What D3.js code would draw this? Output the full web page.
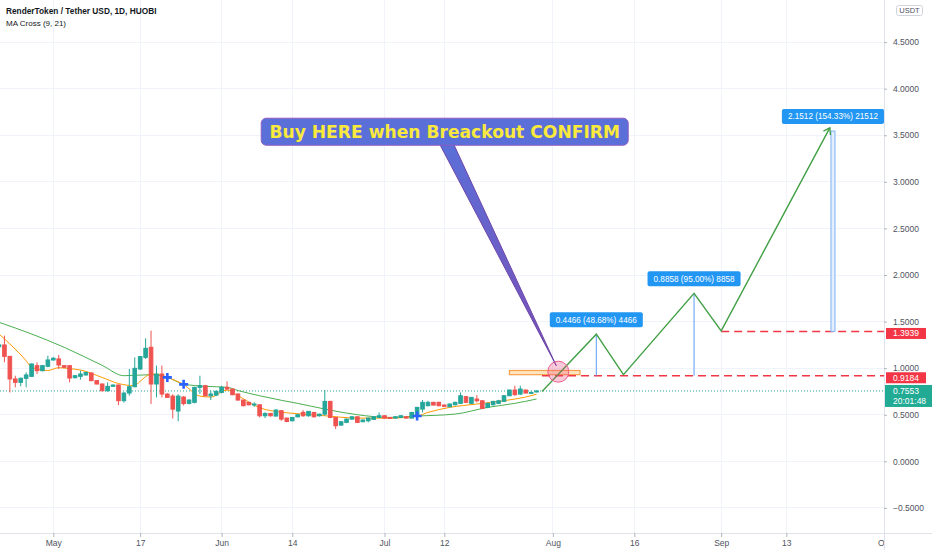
<html>
<head>
    <title>RenderToken / Tether USD, 1D</title>
    <meta charset="utf-8" />
    <style>
body {
    margin: 0;
    padding: 0;
    background: #fff;
}

svg {
    display: block;
}

.grid line {
    stroke: #f0f3fa;
    shape-rendering: crispEdges;
}

.axis text {
    fill: #50535e;
    font-family: 'Liberation Sans', Arial, sans-serif;
}

.axis line {
    stroke: #b2b5be;
}

.up line, .up rect { stroke: #26a69a; fill: #26a69a; }
.down line, .down rect { stroke: #ef5350; fill: #ef5350; }

.legend {
    fill: #131722;
    font-family: 'Liberation Sans', Arial, sans-serif;
}
    </style>

    <!-- load the d3.js library -->
    <script src="https://d3js.org/d3.v7.min.js"></script>
</head>
<body>
    <script>
// daily candles, first one on candleStart
var candleStart = "2021-04-21";
var opens = [1.23, 1.249, 1.127, 0.884, 0.848, 0.891, 0.912, 1.027, 0.973, 1.020,
    1.088, 1.099, 1.027, 1.027, 0.898, 0.912, 0.927, 0.948, 0.866, 0.830, 0.758, 0.805, 0.819, 0.651, 0.733, 0.801,
    0.991, 1.116, 1.224, 0.830, 0.937, 0.722, 0.70, 0.54, 0.69, 0.622, 0.633, 0.794, 0.812, 0.704, 0.711,
    0.740, 0.794, 0.776, 0.722, 0.658, 0.633, 0.607, 0.607, 0.489, 0.514, 0.486, 0.543, 0.464, 0.435, 0.478,
    0.525, 0.489, 0.525, 0.489, 0.507, 0.643, 0.471, 0.389, 0.418, 0.453, 0.478, 0.425, 0.435, 0.450, 0.471,
    0.489, 0.471, 0.464, 0.471, 0.478, 0.464, 0.489, 0.561, 0.597, 0.633, 0.633, 0.604, 0.586, 0.607, 0.622,
    0.694, 0.622, 0.668, 0.650, 0.579, 0.607, 0.622, 0.643, 0.704, 0.765, 0.722, 0.765, 0.733, 0.745];
var highs = [1.29, 1.349, 1.13, 0.919, 0.90, 0.955, 1.05, 1.063, 1.035, 1.134,
    1.12, 1.142, 1.03, 1.03, 0.925, 0.973, 0.96, 0.955, 0.87, 0.835, 0.848, 0.825, 0.825, 0.74, 0.991, 1.116,
    1.13, 1.321, 1.403, 1.027, 1.027, 0.73, 0.72, 0.72, 0.70, 0.665, 0.80, 0.919, 0.82, 0.758, 0.76,
    0.812, 0.858, 0.78, 0.73, 0.66, 0.64, 0.633, 0.61, 0.525, 0.52, 0.56, 0.55, 0.47, 0.475, 0.51,
    0.55, 0.54, 0.53, 0.51, 0.765, 0.65, 0.475, 0.43, 0.46, 0.485, 0.48, 0.45, 0.47, 0.485, 0.525,
    0.495, 0.475, 0.485, 0.495, 0.485, 0.53, 0.585, 0.658, 0.65, 0.64, 0.64, 0.61, 0.62, 0.64, 0.74,
    0.70, 0.69, 0.711, 0.655, 0.63, 0.65, 0.66, 0.71, 0.77, 0.812, 0.812, 0.77, 0.75, 0.76];
var lows = [1.20, 1.063, 0.740, 0.794, 0.805, 0.794, 0.905, 0.937, 0.965, 1.009,
    1.08, 0.991, 1.0, 0.848, 0.89, 0.876, 0.92, 0.86, 0.825, 0.75, 0.747, 0.80, 0.604, 0.63, 0.704, 0.794,
    0.98, 1.099, 0.615, 0.686, 0.686, 0.68, 0.46, 0.43, 0.60, 0.61, 0.622, 0.722, 0.70, 0.658, 0.70,
    0.729, 0.765, 0.71, 0.65, 0.59, 0.60, 0.586, 0.471, 0.464, 0.48, 0.48, 0.435, 0.42, 0.43, 0.47,
    0.478, 0.48, 0.47, 0.48, 0.489, 0.464, 0.346, 0.38, 0.41, 0.445, 0.41, 0.42, 0.418, 0.445, 0.464,
    0.46, 0.455, 0.46, 0.465, 0.46, 0.46, 0.48, 0.525, 0.59, 0.60, 0.59, 0.585, 0.58, 0.60, 0.615,
    0.625, 0.615, 0.633, 0.56, 0.57, 0.60, 0.615, 0.64, 0.70, 0.704, 0.711, 0.73, 0.73, 0.74];
var closes = [1.25, 1.127, 0.884, 0.848, 0.891, 0.927, 1.045, 0.973, 1.027, 1.088,
    1.106, 1.034, 1.009, 0.894, 0.919, 0.937, 0.955, 0.866, 0.830, 0.758, 0.805, 0.819, 0.651, 0.733, 0.801, 0.998,
    1.124, 1.213, 0.830, 0.937, 0.722, 0.686, 0.56, 0.70, 0.62, 0.658, 0.794, 0.812, 0.704, 0.722, 0.751,
    0.794, 0.776, 0.715, 0.658, 0.597, 0.607, 0.615, 0.489, 0.514, 0.489, 0.550, 0.453, 0.428, 0.471, 0.500,
    0.489, 0.536, 0.478, 0.507, 0.643, 0.471, 0.382, 0.425, 0.453, 0.478, 0.418, 0.443, 0.464, 0.478, 0.489,
    0.464, 0.46, 0.478, 0.489, 0.464, 0.525, 0.579, 0.633, 0.633, 0.604, 0.597, 0.590, 0.615, 0.633, 0.704,
    0.633, 0.686, 0.650, 0.568, 0.622, 0.643, 0.650, 0.704, 0.765, 0.715, 0.776, 0.733, 0.740, 0.7553];

// MA Cross (9, 21)
var ma9Dates = ["2021-04-21", "2021-04-23", "2021-04-26", "2021-04-27", "2021-04-30", "2021-05-02", "2021-05-04",
    "2021-05-06", "2021-05-10", "2021-05-13", "2021-05-16", "2021-05-17", "2021-05-19", "2021-05-20", "2021-05-22",
    "2021-05-25", "2021-05-28", "2021-05-30", "2021-06-02", "2021-06-04", "2021-06-08", "2021-06-13", "2021-06-15",
    "2021-06-20", "2021-06-26", "2021-07-02", "2021-07-07", "2021-07-09", "2021-07-13", "2021-07-18", "2021-07-23",
    "2021-07-27", "2021-07-29"];
var ma9Values = [1.367, 1.26, 1.08, 1.01, 0.975, 1.005, 0.995,
    0.98, 0.90, 0.835, 0.812, 0.86, 0.935, 0.935, 0.901,
    0.823, 0.70, 0.69, 0.765, 0.705, 0.575, 0.521, 0.511,
    0.489, 0.464, 0.464, 0.486, 0.525, 0.579, 0.615, 0.651,
    0.69, 0.72];
var ma21Dates = ["2021-04-21", "2021-04-27", "2021-05-03", "2021-05-10", "2021-05-14", "2021-05-19", "2021-05-22",
    "2021-05-25", "2021-05-29", "2021-06-02", "2021-06-04", "2021-06-08", "2021-06-12", "2021-06-15", "2021-06-20",
    "2021-06-26", "2021-07-02", "2021-07-07", "2021-07-14", "2021-07-20", "2021-07-25", "2021-07-29"];
var ma21Values = [1.492, 1.367, 1.224, 1.03, 0.919, 0.93, 0.901,
    0.830, 0.805, 0.795, 0.76, 0.704, 0.655, 0.622, 0.561,
    0.500, 0.471, 0.486, 0.507, 0.579, 0.622, 0.669];
var crossDates = ["2021-05-22", "2021-05-25", "2021-07-07"];
var crossValues = [0.901, 0.826, 0.486];

// drawn projection
var projDates = ["2021-07-30", "2021-08-09", "2021-08-14", "2021-08-27", "2021-09-01", "2021-09-21"];
var projValues = [0.75, 1.365, 0.93, 1.804, 1.40, 3.58];

var measureDates = ["2021-08-09", "2021-08-27", "2021-09-21T14:00"];
var measureFrom = [0.9184, 0.9184, 1.3939];
var measureTo = [1.365, 1.8042, 3.5451];
var measureLabels = ["0.4466 (48.68%) 4466", "0.8858 (95.00%) 8858", "2.1512 (154.33%) 21512"];

var levelStarts = ["2021-07-30", "2021-09-01"];
var levelValues = [0.9184, 1.3939];
var lastPrice = 0.7553;
var countdown = "20:01:48";

var zoneDates = ["2021-07-24", "2021-08-06"];
var zoneValues = [0.93, 0.975];
var circleDate = "2021-08-02T00:00";
var circleValue = 0.962;

var calloutText = "Buy HERE when Breackout CONFIRM";
var calloutDate = "2021-07-12T02:00";
var calloutValue = 3.538;

var priceTicks = [-0.5, 0, 0.5, 1, 1.5, 2, 2.5, 3, 3.5, 4, 4.5];
var timeTicks = ["2021-05-01", "2021-05-17", "2021-06-01", "2021-06-14", "2021-07-01", "2021-07-12",
    "2021-08-01", "2021-08-16", "2021-09-01", "2021-09-13", "2021-10-01"];
var timeLabels = ["May", "17", "Jun", "14", "Jul", "12", "Aug", "16", "Sep", "13", "Oct"];

var Chart = (function (d3) {

    var width = 932, height = 550, plotRight = 884, plotBottom = 533;
    var svg, x, y, plot;

    function dt(s) {
        return d3.isoParse(s.length > 10 ? s + "Z" : s + "T00:00Z");
    }

    init();

    function init() {
        x = d3.scaleUtc().domain([dt("2021-05-01"), dt("2021-10-01")]).range([53.3, 884.1]);
        y = d3.scaleLinear().domain([-0.5, 4.5]).range([507.9, 42.1]);

        svg = d3.select("body").append("svg")
            .attr("width", width)
            .attr("height", height);

        var defs = svg.append("defs");
        defs.append("clipPath").attr("id", "plotClip")
            .append("rect").attr("width", plotRight).attr("height", plotBottom);
        defs.append("clipPath").attr("id", "timeClip")
            .append("rect").attr("width", plotRight).attr("height", height);

        defs.append("marker")
            .attr("id", "arrowHead")
            .attr("markerUnits", "userSpaceOnUse")
            .attr("viewBox", "-8 -6 10 12")
            .attr("markerWidth", 10).attr("markerHeight", 12)
            .attr("orient", "auto")
            .append("path")
            .attr("d", "M-6,-4L0,0L-6,4")
            .attr("fill", "none")
            .attr("stroke", "#43a047")
            .attr("stroke-width", 1.4);

        var tailGrad = defs.append("linearGradient").attr("id", "tailGrad")
            .attr("x1", 0).attr("y1", 0).attr("x2", 0).attr("y2", 1);
        tailGrad.append("stop").attr("offset", "0%").attr("stop-color", "#5b6fd8");
        tailGrad.append("stop").attr("offset", "100%").attr("stop-color", "#7a4fb5");

        plot = svg.append("g").attr("clip-path", "url(#plotClip)");

        //grid
        var grid = plot.append("g").attr("class", "grid");
        grid.selectAll(".h").data(priceTicks).join("line")
            .attr("x1", 0).attr("x2", plotRight)
            .attr("y1", function (d) { return y(d); }).attr("y2", function (d) { return y(d); });
        grid.selectAll(".v").data(timeTicks).join("line")
            .attr("y1", 0).attr("y2", plotBottom)
            .attr("x1", function (d) { return x(dt(d)); }).attr("x2", function (d) { return x(dt(d)); });

        // last price line
        plot.append("line")
            .attr("x1", 0).attr("x2", plotRight)
            .attr("y1", y(lastPrice)).attr("y2", y(lastPrice))
            .attr("stroke", "#26a69a").attr("stroke-width", 1)
            .attr("stroke-dasharray", "1,2");

        drawMAs();
        drawCandles();
        drawAnnotations();
        drawAxes();
        drawLegend();
    }

    function drawMAs() {
        var line = d3.line()
            .curve(d3.curveMonotoneX)
            .x(function (d) { return x(dt(d[0])); })
            .y(function (d) { return y(d[1]); });

        plot.append("path")
            .datum(d3.zip(ma21Dates, ma21Values))
            .attr("d", line)
            .attr("fill", "none").attr("stroke", "#4caf50").attr("stroke-width", 1);

        plot.append("path")
            .datum(d3.zip(ma9Dates, ma9Values))
            .attr("d", line)
            .attr("fill", "none").attr("stroke", "#ff9800").attr("stroke-width", 1);
    }

    function drawCandles() {
        var first = dt(candleStart);
        var days = d3.utcDay.range(first, d3.utcDay.offset(first, opens.length));
        var candles = opens.map(function (o, i) {
            return { date: days[i], o: o, h: highs[i], l: lows[i], c: closes[i] };
        });

        var g = plot.append("g").selectAll("g").data(candles).join("g")
            .attr("class", function (d) { return d.c >= d.o ? "up" : "down"; });

        g.append("line")
            .attr("x1", function (d) { return x(d.date); })
            .attr("x2", function (d) { return x(d.date); })
            .attr("y1", function (d) { return y(d.h); })
            .attr("y2", function (d) { return y(d.l); })
            .attr("stroke-width", 1);

        g.append("rect")
            .attr("x", function (d) { return x(d.date) - 1.8; })
            .attr("width", 3.6)
            .attr("y", function (d) { return y(Math.max(d.o, d.c)); })
            .attr("height", function (d) { return Math.max(1, Math.abs(y(d.o) - y(d.c))); })
            .attr("stroke", "none");

        // MA cross markers
        plot.append("g").selectAll("path").data(d3.zip(crossDates, crossValues)).join("path")
            .attr("transform", function (d) { return "translate(" + x(dt(d[0])) + "," + y(d[1]) + ")"; })
            .attr("d", "M-4.5,0H4.5M0,-4.5V4.5")
            .attr("stroke", "#2962ff").attr("stroke-width", 2.6);
    }

    function drawAnnotations() {
        // orange zone
        plot.append("rect")
            .attr("x", x(dt(zoneDates[0])))
            .attr("width", x(dt(zoneDates[1])) - x(dt(zoneDates[0])))
            .attr("y", y(zoneValues[1]))
            .attr("height", y(zoneValues[0]) - y(zoneValues[1]))
            .attr("fill", "rgba(255,152,0,0.25)")
            .attr("stroke", "#f7a04b").attr("stroke-width", 1.2);

        // red dashed levels
        plot.selectAll(".level").data(d3.zip(levelStarts, levelValues)).join("line")
            .attr("x1", function (d) { return x(dt(d[0])); }).attr("x2", plotRight)
            .attr("y1", function (d) { return y(d[1]); }).attr("y2", function (d) { return y(d[1]); })
            .attr("stroke", "#f23645").attr("stroke-width", 1.5)
            .attr("stroke-dasharray", "8,5");

        // measure lines
        measureDates.forEach(function (d, i) {
            var mx = x(dt(d));
            if (i === measureDates.length - 1) {
                plot.append("rect")
                    .attr("x", mx - 2).attr("width", 4)
                    .attr("y", y(measureTo[i])).attr("height", y(measureFrom[i]) - y(measureTo[i]))
                    .attr("fill", "#e3effd").attr("stroke", "#7fb3f5").attr("stroke-width", 1);
            } else {
                plot.append("line")
                    .attr("x1", mx).attr("x2", mx)
                    .attr("y1", y(measureFrom[i])).attr("y2", y(measureTo[i]))
                    .attr("stroke", "#5b9cf6").attr("stroke-width", 1);
            }
        });

        // projection zigzag
        plot.append("path")
            .datum(d3.zip(projDates, projValues))
            .attr("d", d3.line()
                .x(function (d) { return x(dt(d[0])); })
                .y(function (d) { return y(d[1]); }))
            .attr("fill", "none").attr("stroke", "#43a047").attr("stroke-width", 1.4)
            .attr("marker-end", "url(#arrowHead)");

        // callout
        var cx = x(dt(calloutDate)), cy = y(calloutValue);
        var tipX = x(dt(circleDate)) - 2;
        var callout = plot.append("g");
        var tail = callout.append("path");
        var box = callout.append("rect");
        var txt = callout.append("text")
            .attr("x", cx).attr("y", cy)
            .attr("text-anchor", "middle")
            .attr("dy", "0.36em")
            .attr("font-family", "'DejaVu Sans', Verdana, sans-serif")
            .attr("font-weight", "bold")
            .attr("font-size", 15)
            .attr("fill", "#f9e93d")
            .text(calloutText);
        var len = txt.node().getComputedTextLength();
        txt.attr("font-size", 15 * 351 / len);
        var bw = 367, bh = 27;
        box.attr("x", cx - bw / 2).attr("y", cy - bh / 2)
            .attr("width", bw).attr("height", bh)
            .attr("rx", 5)
            .attr("fill", "#5b6fd8")
            .attr("stroke", "#8d5cc2").attr("stroke-width", 1);
        tail.attr("d", "M" + (cx - 5) + "," + (cy + bh / 2 - 1) +
                "L" + tipX + "," + (y(circleValue) - 6) +
                "L" + (cx + 9) + "," + (cy + bh / 2 - 1) + "Z")
            .attr("fill", "url(#tailGrad)")
            .attr("stroke", "#6d45a8").attr("stroke-width", 1);

        // highlight circle
        plot.append("circle")
            .attr("cx", x(dt(circleDate))).attr("cy", y(circleValue))
            .attr("r", 10.5)
            .attr("fill", "rgba(236,64,122,0.28)")
            .attr("stroke", "#ec5a8a").attr("stroke-width", 1);

        // measure labels
        measureDates.forEach(function (d, i) {
            var mx = x(dt(d)), top = y(measureTo[i]) - 7;
            var g = plot.append("g");
            var r = g.append("rect");
            var t = g.append("text")
                .attr("x", mx).attr("y", top - 7.5)
                .attr("dy", "0.35em")
                .attr("text-anchor", "middle")
                .attr("font-family", "'Liberation Sans', Arial, sans-serif")
                .attr("font-size", 8.2)
                .attr("fill", "#fff")
                .text(measureLabels[i]);
            var w = t.node().getComputedTextLength() + 12;
            r.attr("x", mx - w / 2).attr("y", top - 15)
                .attr("width", w).attr("height", 15)
                .attr("rx", 2)
                .attr("fill", "#2196f3");
        });
    }

    function drawAxes() {
        // borders
        svg.append("line")
            .attr("x1", plotRight + 0.5).attr("x2", plotRight + 0.5)
            .attr("y1", 0).attr("y2", height)
            .attr("stroke", "#e0e3eb");
        svg.append("line")
            .attr("x1", 0).attr("x2", width)
            .attr("y1", plotBottom + 0.5).attr("y2", plotBottom + 0.5)
            .attr("stroke", "#e0e3eb");

        var yAxis = d3.axisRight(y)
            .tickValues(priceTicks)
            .tickFormat(d3.format(".4f"))
            .tickSize(3)
            .tickPadding(6);

        var ya = svg.append("g")
            .attr("class", "axis")
            .attr("transform", "translate(" + plotRight + ",0)")
            .call(yAxis);
        ya.select(".domain").remove();
        ya.selectAll("text").attr("font-size", 8.5);

        var xAxis = d3.axisBottom(x)
            .tickValues(timeTicks.map(dt))
            .tickFormat(function (d, i) { return timeLabels[i]; })
            .tickSize(4)
            .tickPadding(2.5);

        var xa = svg.append("g")
            .attr("class", "axis")
            .attr("clip-path", "url(#timeClip)")
            .append("g")
            .attr("transform", "translate(0," + plotBottom + ")")
            .call(xAxis);
        xa.select(".domain").remove();
        xa.selectAll("text").attr("font-size", 8.5);

        // level labels on the price scale, sitting just under their line
        levelValues.forEach(function (v) {
            svg.append("rect")
                .attr("x", plotRight + 2).attr("width", 40)
                .attr("y", y(v) - 3.5).attr("height", 11)
                .attr("fill", "#f23645");
            svg.append("text")
                .attr("x", 893).attr("y", y(v) + 2)
                .attr("dy", "0.35em")
                .attr("font-family", "'Liberation Sans', Arial, sans-serif")
                .attr("font-size", 8.5)
                .attr("fill", "#fff")
                .text(d3.format(".4f")(v));
        });

        svg.append("rect")
            .attr("x", plotRight + 1).attr("width", width - plotRight - 1)
            .attr("y", y(lastPrice) - 6).attr("height", 22)
            .attr("fill", "#22ab94");
        svg.append("text")
            .attr("x", 893).attr("y", y(lastPrice))
            .attr("dy", "0.35em")
            .attr("font-family", "'Liberation Sans', Arial, sans-serif")
            .attr("font-size", 8.5).attr("fill", "#fff")
            .text(d3.format(".4f")(lastPrice));
        svg.append("text")
            .attr("x", 893).attr("y", y(lastPrice) + 10)
            .attr("dy", "0.35em")
            .attr("font-family", "'Liberation Sans', Arial, sans-serif")
            .attr("font-size", 8.5).attr("fill", "#fff")
            .text(countdown);

        // currency badge
        svg.append("rect")
            .attr("x", 896.5).attr("y", 5.5)
            .attr("width", 26).attr("height", 10)
            .attr("rx", 2)
            .attr("fill", "#fff").attr("stroke", "#d1d4dc");
        svg.append("text")
            .attr("x", 909.5).attr("y", 10.5)
            .attr("dy", "0.35em")
            .attr("text-anchor", "middle")
            .attr("font-family", "'Liberation Sans', Arial, sans-serif")
            .attr("font-size", 7.5).attr("fill", "#50535e")
            .text("USDT");
    }

    function drawLegend() {
        svg.append("text")
            .attr("class", "legend")
            .attr("x", 6).attr("y", 14)
            .attr("font-size", 8.3)
            .attr("font-weight", "bold")
            .text("RenderToken / Tether USD, 1D, HUOBI");
        svg.append("text")
            .attr("class", "legend")
            .attr("x", 6).attr("y", 25.6)
            .attr("font-size", 8)
            .text("MA Cross (9, 21)");
    }

    return {};
})(d3);
    </script>
</body>
</html>
